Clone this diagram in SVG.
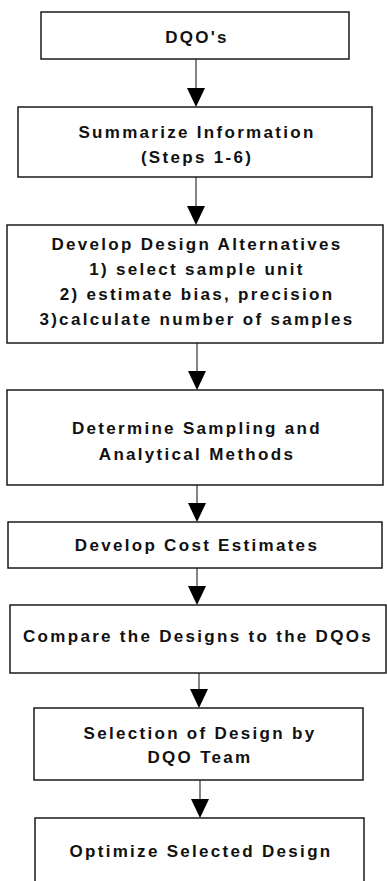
<svg xmlns="http://www.w3.org/2000/svg" width="387" height="881" viewBox="0 0 387 881">
<defs>
<style>
.box{fill:#fff;stroke:#1a1a1a;stroke-width:1.5}
.t{font-family:"Liberation Sans",Arial,sans-serif;font-weight:bold;font-size:17px;letter-spacing:2.3px;fill:#111;text-anchor:middle}
.c{stroke:#333;stroke-width:1.2;fill:none}
.h{fill:#000}
</style>
</defs>
<rect width="387" height="881" fill="#fff"/>
<g id="connectors">
<line class="c" x1="196" y1="59" x2="196" y2="90"/><polygon class="h" points="187,88 205,88 196,107"/>
<line class="c" x1="196" y1="177" x2="196" y2="208"/><polygon class="h" points="187,206 205,206 196,225"/>
<line class="c" x1="197" y1="343" x2="197" y2="373"/><polygon class="h" points="188,371 206,371 197,390"/>
<line class="c" x1="197" y1="485" x2="197" y2="505"/><polygon class="h" points="188,503 206,503 197,522"/>
<line class="c" x1="197" y1="568" x2="197" y2="588"/><polygon class="h" points="188,586 206,586 197,605"/>
<line class="c" x1="199" y1="673" x2="199" y2="691"/><polygon class="h" points="190,689 208,689 199,708"/>
<line class="c" x1="200" y1="780" x2="200" y2="801"/><polygon class="h" points="191,799 209,799 200,818"/>
</g>
<g id="n1"><rect class="box" x="41" y="12" width="308" height="47"/><text class="t" x="197" y="43">DQO's</text></g>
<g id="n2"><rect class="box" x="18" y="107" width="354" height="70"/><text class="t" x="197" y="138">Summarize Information</text><text class="t" x="197" y="163">(Steps 1-6)</text></g>
<g id="n3"><rect class="box" x="7" y="225" width="376" height="118"/><text class="t" x="197" y="250">Develop Design Alternatives</text><text class="t" x="197" y="275">1) select sample unit</text><text class="t" x="197" y="300">2) estimate bias, precision</text><text class="t" x="197" y="325">3)calculate number of samples</text></g>
<g id="n4"><rect class="box" x="7" y="390" width="376" height="95"/><text class="t" x="197" y="434">Determine Sampling and</text><text class="t" x="197" y="460">Analytical Methods</text></g>
<g id="n5"><rect class="box" x="8" y="522" width="374" height="46"/><text class="t" x="197" y="551">Develop Cost Estimates</text></g>
<g id="n6"><rect class="box" x="10" y="605" width="376" height="68"/><text class="t" x="198" y="642">Compare the Designs to the DQOs</text></g>
<g id="n7"><rect class="box" x="34" y="708" width="329" height="72"/><text class="t" x="200" y="739">Selection of Design by</text><text class="t" x="200" y="763">DQO Team</text></g>
<g id="n8"><rect class="box" x="35" y="818" width="329" height="75"/><text class="t" x="201" y="857">Optimize Selected Design</text></g>
</svg>
